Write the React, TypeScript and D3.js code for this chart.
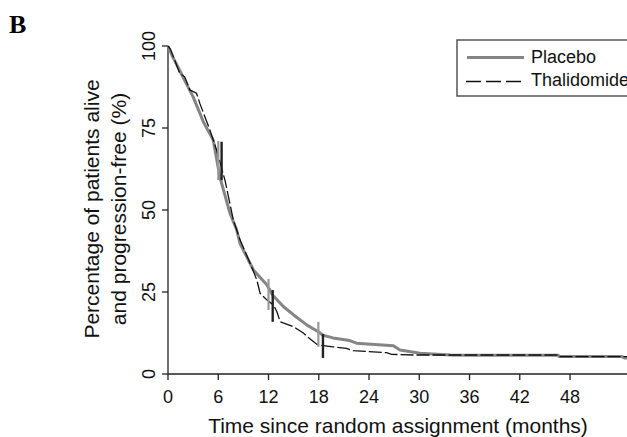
import React, { useEffect, useRef } from 'react';
import * as d3 from 'd3';

// Kaplan-Meier readings (months, % alive and progression-free)
const placeboTimes = [0, 0.5, 1.5, 3.0, 4.2, 5.4, 6.2, 7.4, 8.2, 8.6, 10.2, 11.8, 12.5, 13.8, 15.0, 16.6, 17.95, 18.5, 19.7, 21.7, 22.5, 26.9, 27.7, 30.1, 33.7, 35.7, 46.6, 46.7, 54.2, 54.5, 55];
const placeboValues = [100, 97, 92, 84.5, 77, 71.3, 60, 49, 43.9, 39.8, 31.7, 27.2, 24, 20.5, 18.0, 14.9, 12.9, 11.8, 11.0, 10.2, 9.4, 8.6, 7.3, 6.3, 5.8, 5.7, 5.7, 5.3, 5.3, 4.9, 4.9];

const thalidomideTimes = [0, 0.3, 1.4, 2.0, 2.6, 3.4, 3.8, 5.0, 5.8, 6.8, 7.8, 8.6, 9.8, 10.6, 11.0, 11.8, 12.6, 13.0, 13.4, 15.0, 16.2, 16.6, 17.8, 18.1, 19.7, 21.3, 22.1, 26.1, 26.7, 29.3, 46.6, 46.7, 55];
const thalidomideValues = [100, 99, 91.7, 90.6, 86.6, 85.6, 82.5, 74.4, 68.3, 59.1, 47, 40.9, 33.8, 28.7, 24.6, 22.6, 21.0, 19, 15.9, 14.4, 12.4, 11.4, 9.0, 8.8, 8.3, 7.8, 7.1, 6.5, 6.0, 5.8, 5.8, 5.3, 5.3];

// vertical marks (time, low %, high %)
const placeboMarkTimes = [6.0, 12.0, 17.95];
const placeboMarkLow = [59.1, 19.5, 8.3];
const placeboMarkHigh = [71.0, 29.0, 15.9];
const thalidomideMarkTimes = [6.4, 12.5, 18.5];
const thalidomideMarkLow = [59.1, 15.9, 4.9];
const thalidomideMarkHigh = [70.8, 25.6, 12.2];

const xTicks = [0, 6, 12, 18, 24, 30, 36, 42, 48];
const yTicks = [0, 25, 50, 75, 100];
const seriesNames = ['Placebo', 'Thalidomide'];

const FONT = '"Liberation Sans", Arial, sans-serif';

const App = () => {
  const svgRef = useRef<SVGSVGElement>(null);

  useEffect(() => {
    const svg = d3.select(svgRef.current);
    svg.selectAll('*').remove();

    const x = d3.scaleLinear().domain([0, 54.8]).range([168, 627]);
    const y = d3.scaleLinear().domain([0, 100]).range([374, 46]);

    const axisColor = '#222';
    const grayColor = '#858585';

    // Y axis
    svg.append('line')
      .attr('x1', x(0)).attr('x2', x(0))
      .attr('y1', y(100)).attr('y2', y(0))
      .style('stroke', axisColor).style('stroke-width', 1.3);
    yTicks.forEach(t => {
      svg.append('line')
        .attr('x1', x(0) - 6).attr('x2', x(0))
        .attr('y1', y(t)).attr('y2', y(t))
        .style('stroke', axisColor).style('stroke-width', 1.3);
      svg.append('text')
        .attr('transform', `translate(155,${y(t)}) rotate(-90)`)
        .attr('text-anchor', 'middle')
        .style('font-family', FONT).style('font-size', '18px').style('fill', '#111')
        .text(t);
    });

    // X axis
    svg.append('line')
      .attr('x1', x(0)).attr('x2', 627)
      .attr('y1', y(0)).attr('y2', y(0))
      .style('stroke', axisColor).style('stroke-width', 1.3);
    xTicks.forEach(t => {
      svg.append('line')
        .attr('x1', x(t)).attr('x2', x(t))
        .attr('y1', y(0)).attr('y2', y(0) + 6)
        .style('stroke', axisColor).style('stroke-width', 1.3);
      svg.append('text')
        .attr('x', x(t)).attr('y', 403)
        .attr('text-anchor', 'middle')
        .style('font-family', FONT).style('font-size', '18px').style('fill', '#111')
        .text(t);
    });

    // Axis titles
    svg.append('text')
      .attr('x', 398).attr('y', 433)
      .attr('text-anchor', 'middle')
      .style('font-family', FONT).style('font-size', '21px').style('fill', '#111')
      .text('Time since random assignment (months)');
    svg.append('text')
      .attr('transform', 'translate(99,209) rotate(-90)')
      .attr('text-anchor', 'middle')
      .style('font-family', FONT).style('font-size', '21px').style('fill', '#111')
      .text('Percentage of patients alive');
    svg.append('text')
      .attr('transform', 'translate(126,209) rotate(-90)')
      .attr('text-anchor', 'middle')
      .style('font-family', FONT).style('font-size', '21px').style('fill', '#111')
      .text('and progression-free (%)');

    // Panel letter
    svg.append('text')
      .attr('x', 9).attr('y', 33)
      .style('font-family', '"Liberation Serif", "Times New Roman", serif')
      .style('font-size', '26px').style('font-weight', 'bold').style('fill', '#000')
      .text('B');

    // Curves
    const line = d3.line<number>()
      .x(d => x(d[0]))
      .y(d => y(d[1]));

    const placeboPts = placeboTimes.map((t, i) => [t, placeboValues[i]]);
    const thalPts = thalidomideTimes.map((t, i) => [t, thalidomideValues[i]]);

    svg.append('path')
      .attr('d', line(placeboPts as any))
      .style('fill', 'none').style('stroke', grayColor).style('stroke-width', 3)
      .style('stroke-linejoin', 'round');

    svg.append('path')
      .attr('d', line(thalPts as any))
      .style('fill', 'none').style('stroke', '#111').style('stroke-width', 1.3)
      .style('stroke-dasharray', '13,3');

    // Vertical marks
    placeboMarkTimes.forEach((t, i) => {
      svg.append('line')
        .attr('x1', x(t)).attr('x2', x(t))
        .attr('y1', y(placeboMarkLow[i])).attr('y2', y(placeboMarkHigh[i]))
        .style('stroke', '#999').style('stroke-width', 2.2);
    });
    thalidomideMarkTimes.forEach((t, i) => {
      svg.append('line')
        .attr('x1', x(t)).attr('x2', x(t))
        .attr('y1', y(thalidomideMarkLow[i])).attr('y2', y(thalidomideMarkHigh[i]))
        .style('stroke', '#222').style('stroke-width', 2.4);
    });

    // Legend (box runs past the right edge, as in the original)
    svg.append('rect')
      .attr('x', 457).attr('y', 40)
      .attr('width', 200).attr('height', 56)
      .style('fill', '#fff').style('stroke', '#555').style('stroke-width', 1.5);
    svg.append('line')
      .attr('x1', 467).attr('x2', 524).attr('y1', 57.5).attr('y2', 57.5)
      .style('stroke', grayColor).style('stroke-width', 3);
    svg.append('line')
      .attr('x1', 466).attr('x2', 524).attr('y1', 81.5).attr('y2', 81.5)
      .style('stroke', '#111').style('stroke-width', 1.3)
      .style('stroke-dasharray', '15,5');
    seriesNames.forEach((name, i) => {
      svg.append('text')
        .attr('x', 531).attr('y', 63 + i * 22.5)
        .style('font-family', FONT).style('font-size', '18px').style('fill', '#111')
        .text(name);
    });
  }, []);

  return (
    <svg
      ref={svgRef}
      width={627}
      height={437}
      style={{ position: 'absolute', left: 0, top: 0, background: '#fff', overflow: 'hidden' }}
    />
  );
};

export default App;
